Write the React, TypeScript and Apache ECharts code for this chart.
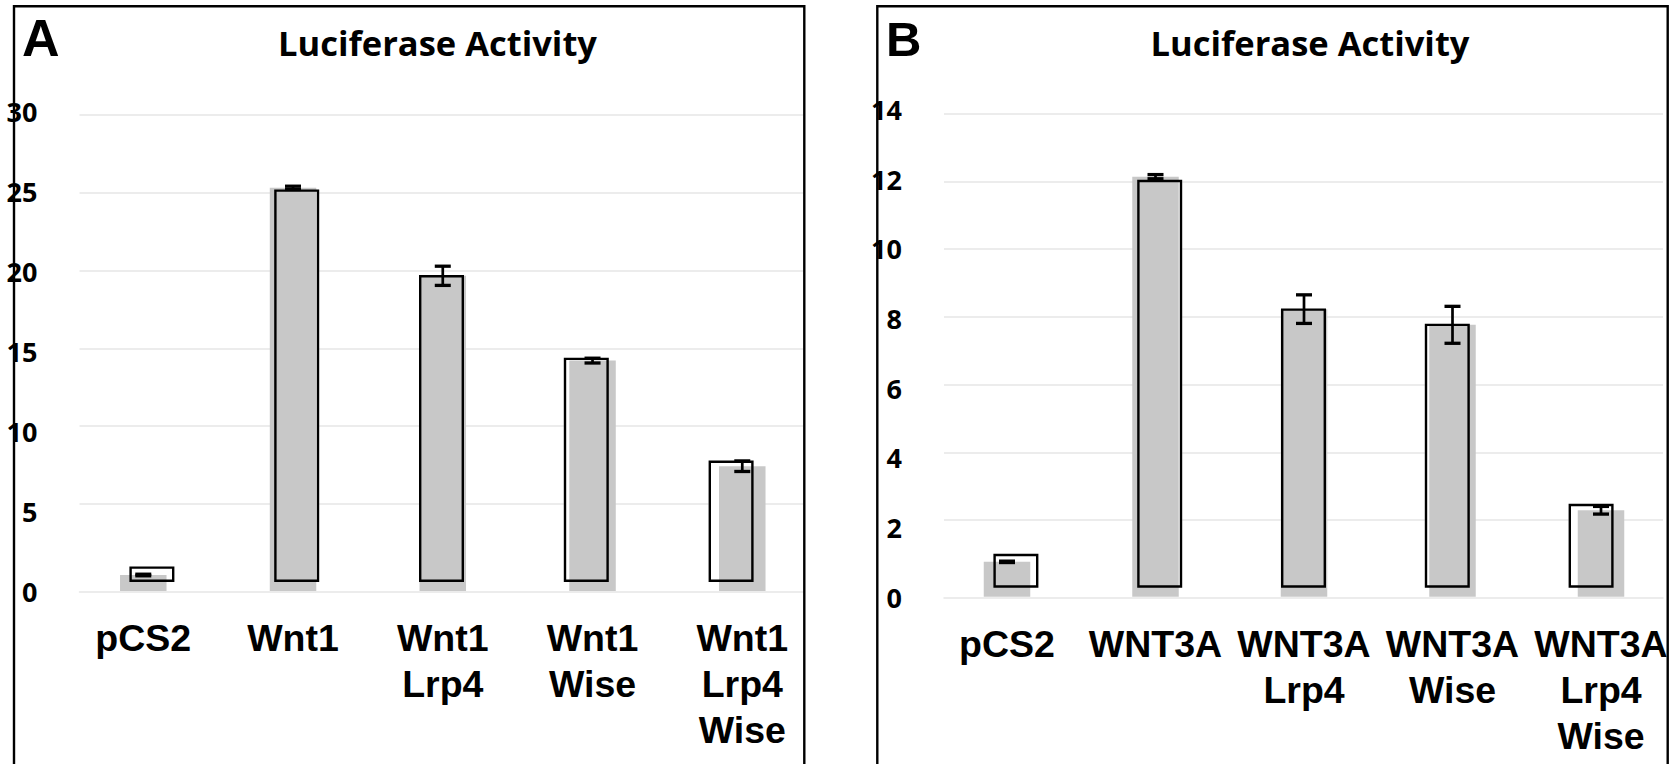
import React, { useEffect, useRef } from 'react';
import * as echarts from 'echarts';

// ---- data ----
const chartTitle = 'Luciferase Activity';
const panelLetters = ['A', 'B'];

const categoriesA = ['pCS2', 'Wnt1', 'Wnt1\nLrp4', 'Wnt1\nWise', 'Wnt1\nLrp4\nWise'];
const meansA = [1.0, 25.2, 19.7, 14.4, 7.8];
const errorsA = [0.05, 0.1, 0.6, 0.15, 0.33];
const yMinA = 0;
const yMaxA = 30;
const yStepA = 5;

const categoriesB = ['pCS2', 'WNT3A', 'WNT3A\nLrp4', 'WNT3A\nWise', 'WNT3A\nLrp4\nWise'];
const meansB = [1.0, 12.05, 8.25, 7.8, 2.48];
const errorsB = [0.02, 0.06, 0.41, 0.53, 0.11];
const yMinB = 0;
const yMaxB = 14;
const yStepB = 2;

// ---- layout / style ----
const layoutA = {
  shadow: { left: 68.4, top: 111, width: 748.75, height: 480 },
  overlay: { left: 79.5, top: 114.6, width: 724, height: 467.4 },
  frame: { left: 79.5, top: 111.7, width: 724, height: 480 },
  border: { x: 14, y: 6.2, width: 790.3 },
  titleX: 437.5,
  letterX: 22,
  letterY: 38,
  letterSize: 52,
};
const layoutB = {
  shadow: { left: 932.75, top: 108.7, width: 742.5, height: 488 },
  overlay: { left: 944, top: 113.8, width: 719, height: 473.9 },
  frame: { left: 944, top: 109.3, width: 719, height: 488 },
  border: { x: 877.3, y: 6.2, width: 790.4 },
  titleX: 1310,
  letterX: 886,
  letterY: 39,
  letterSize: 49,
};

const GRAY = '#c8c8c8';
const GRID_LINE = '#e6e6e6';
const SANS_BOLD = '"Liberation Sans", Arial, sans-serif';
const TICK_FONT = '"Open Sans", Lato, sans-serif';

function buildPanel(
  base: number,
  layout: any,
  categories: string[],
  means: number[],
  errors: number[],
  yMin: number,
  yMax: number,
  yStep: number
) {
  const grids = [layout.shadow, layout.overlay, layout.frame];
  const S = base, O = base + 1, Z = base + 2;

  const xAxes = [
    {
      gridIndex: S,
      type: 'category',
      data: categories,
      axisLine: { show: false },
      axisTick: { show: false },
      splitLine: { show: false },
      axisLabel: {
        interval: 0,
        margin: 24,
        color: '#000',
        fontFamily: SANS_BOLD,
        fontWeight: 'bold',
        fontSize: 37.5,
        lineHeight: 46,
      },
    },
    { gridIndex: O, type: 'category', data: categories, show: false },
    {
      gridIndex: Z,
      type: 'category',
      data: categories,
      axisLine: { show: true, lineStyle: { color: GRID_LINE, width: 1.5 } },
      axisTick: { show: false },
      axisLabel: { show: false },
      splitLine: { show: false },
    },
  ];

  const yAxes = [
    { gridIndex: S, type: 'value', min: yMin, max: yMax, interval: yStep, show: false },
    {
      gridIndex: O,
      type: 'value',
      min: yMin,
      max: yMax,
      interval: yStep,
      axisLine: { show: false },
      axisTick: { show: false },
      axisLabel: { show: false },
      splitLine: { show: true, showMinLine: false, lineStyle: { color: GRID_LINE, width: 1.5 } },
    },
    {
      gridIndex: Z,
      type: 'value',
      min: yMin,
      max: yMax,
      interval: yStep,
      axisLine: { show: false },
      axisTick: { show: false },
      splitLine: { show: false },
      axisLabel: {
        margin: 42,
        color: '#000',
        fontFamily: TICK_FONT,
        fontWeight: 'bold',
        fontSize: 27,
      },
    },
  ];

  const series = [
    {
      type: 'bar',
      xAxisIndex: O,
      yAxisIndex: O,
      data: means,
      barWidth: 45,
      barGap: '-100%',
      itemStyle: { color: '#ffffff' },
      z: 1,
      silent: true,
    },
    {
      type: 'bar',
      xAxisIndex: S,
      yAxisIndex: S,
      data: means,
      barWidth: 46.5,
      itemStyle: { color: GRAY },
      z: 2,
      silent: true,
    },
    {
      type: 'bar',
      xAxisIndex: O,
      yAxisIndex: O,
      data: means,
      barWidth: 45,
      barGap: '-100%',
      itemStyle: { color: 'rgba(0,0,0,0)', borderColor: '#000', borderWidth: 2.4 },
      z: 3,
      silent: true,
    },
    {
      type: 'custom',
      xAxisIndex: S,
      yAxisIndex: S,
      z: 4,
      silent: true,
      encode: { x: 0, y: 1 },
      data: means.map((m, i) => [i, m, errors[i]]),
      renderItem: (params: any, api: any) => {
        const i = api.value(0);
        const m = api.value(1);
        const e = api.value(2);
        const top = api.coord([i, m + e]);
        const bot = api.coord([i, m - e]);
        const half = 8;
        const style = { stroke: '#000', lineWidth: 3.3 };
        return {
          type: 'group',
          children: [
            { type: 'line', shape: { x1: top[0], y1: top[1], x2: bot[0], y2: bot[1] }, style: { stroke: '#000', lineWidth: 2.7 } },
            { type: 'line', shape: { x1: top[0] - half, y1: top[1], x2: top[0] + half, y2: top[1] }, style },
            { type: 'line', shape: { x1: bot[0] - half, y1: bot[1], x2: bot[0] + half, y2: bot[1] }, style },
          ],
        };
      },
    },
  ];

  const graphics = [
    {
      type: 'rect',
      z: 100,
      shape: { x: layout.border.x, y: layout.border.y, width: layout.border.width, height: 900 },
      style: { fill: 'none', stroke: '#000', lineWidth: 2.4 },
      silent: true,
    },
    {
      type: 'text',
      z: 100,
      x: layout.titleX,
      y: 42,
      style: {
        text: chartTitle,
        fill: '#000',
        fontFamily: TICK_FONT,
        fontWeight: 'bold',
        fontSize: 34.5,
        textAlign: 'center',
        textVerticalAlign: 'middle',
        align: 'center',
        verticalAlign: 'middle',
      },
      silent: true,
    },
  ];

  return { grids, xAxes, yAxes, series, graphics };
}

export default function App() {
  const ref = useRef<HTMLDivElement>(null);

  useEffect(() => {
    if (!ref.current) return;
    const chart = echarts.init(ref.current, undefined, { renderer: 'svg' });

    const pA = buildPanel(0, layoutA, categoriesA, meansA, errorsA, yMinA, yMaxA, yStepA);
    const pB = buildPanel(3, layoutB, categoriesB, meansB, errorsB, yMinB, yMaxB, yStepB);

    const letters = [layoutA, layoutB].map((l, k) => ({
      type: 'text',
      z: 100,
      x: l.letterX,
      y: l.letterY,
      style: {
        text: panelLetters[k],
        fill: '#000',
        fontFamily: SANS_BOLD,
        fontWeight: 'bold',
        fontSize: l.letterSize,
        textAlign: 'left',
        textVerticalAlign: 'middle',
        align: 'left',
        verticalAlign: 'middle',
      },
      silent: true,
    }));

    chart.setOption({
      animation: false,
      backgroundColor: '#ffffff',
      grid: [...pA.grids, ...pB.grids].map((g) => ({ ...g, containLabel: false })),
      xAxis: [...pA.xAxes, ...pB.xAxes],
      yAxis: [...pA.yAxes, ...pB.yAxes],
      series: [...pA.series, ...pB.series],
      graphic: [...pA.graphics, ...pB.graphics, ...letters],
    });

    return () => chart.dispose();
  }, []);

  return (
    <div
      ref={ref}
      style={{ position: 'fixed', left: 0, top: 0, width: 1677, height: 764, background: '#fff' }}
    />
  );
}
